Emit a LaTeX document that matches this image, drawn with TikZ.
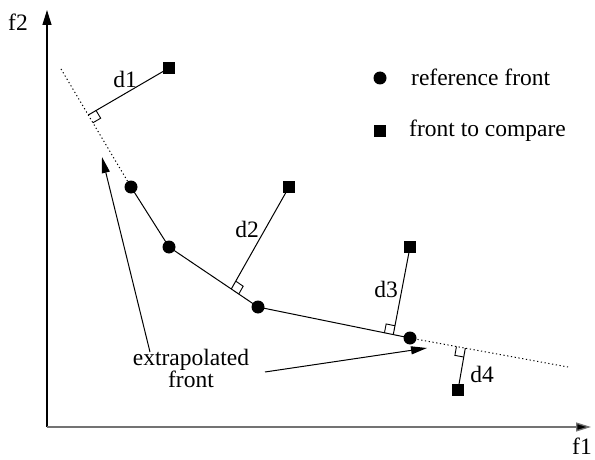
\documentclass[tikz,border=0pt]{standalone}
\usepackage{fontspec}
\setmainfont{Liberation Serif}
\usetikzlibrary{calc,arrows.meta}
\begin{document}
\begin{tikzpicture}[x=1pt,y=-1pt,
  every node/.style={font=\fontsize{23.5}{22}\selectfont, inner sep=0pt},
  curve/.style={line width=1pt},
  extra/.style={line width=1pt, dash pattern=on 1.2pt off 2.6pt},
  dist/.style={line width=1pt},
  rmark/.style={line width=0.9pt},
  refpt/.style={circle, fill=black, minimum size=13pt},
  cmppt/.style={rectangle, fill=black, minimum size=12.5pt},
  axisy/.style={line width=1.3pt, -{Triangle[length=15pt,width=9pt]}},
  axisx/.style={line width=1.3pt, draw=black!55, -{Triangle[length=15pt,width=9pt,fill=black]}},
  pointer/.style={line width=1pt, -{Triangle[length=16pt,width=8pt]}}]
\useasboundingbox (0,0) rectangle (595,460);
% axes
\coordinate (o) at (47,427);
\coordinate (ytip) at (47,10);
\coordinate (xtip) at (591,427);
\draw[axisy] (o) -- (ytip);
\draw[axisx] (o) -- (xtip);
\node (lf2) at (18,22) {f2};
\node (lf1) at (582,446) {f1};
% points
\coordinate (e1) at (61,69);
\coordinate (e2) at (568,367);
\node[refpt] (c1) at (131,187) {};
\node[refpt] (c2) at (169,247) {};
\node[refpt] (c3) at (258,307) {};
\node[refpt] (c4) at (410,338) {};
\node[cmppt] (s1) at (169,68) {};
\node[cmppt] (s2) at (289,187) {};
\node[cmppt] (s3) at (410,247) {};
\node[cmppt] (s4) at (458,390) {};
% fronts
\draw[extra] (e1) -- (c1.center);
\draw[curve] (c1.center) -- (c2.center) -- (c3.center) -- (c4.center);
\draw[extra] (c4.center) -- (e2);
% feet
\coordinate (f1) at ($(e1)!0.39!(c1.center)$);
\coordinate (f2) at ($(c2.center)!0.70!(c3.center)$);
\coordinate (f3) at ($(c3.center)!0.89!(c4.center)$);
\coordinate (f4) at ($(c4.center)!0.35!(e2)$);
\draw[dist] (f1) -- (s1.center);
\draw[dist] (f2) -- (s2.center);
\draw[dist] (f3) -- (s3.center);
\draw[dist] (f4) -- (s4.center);
% right-angle marks
\foreach \f/\a/\s in {f1/c1.center/s1.center, f2/c3.center/s2.center, f3/c3.center/s3.center, f4/c4.center/s4.center}{
  \draw[rmark] ($(\f)!9pt!(\a)$) -- ($($(\f)!9pt!(\a)$)+($(\f)!9pt!(\s)$)-(\f)$) -- ($(\f)!9pt!(\s)$);
}
% distance labels
\node (d1) at (125,79) {d1};
\node (d2) at (247,229) {d2};
\node (d3) at (386,289) {d3};
\node (d4) at (482,374) {d4};
% extrapolated label and arrows
\node[align=center] (ext) at (191,368) {extrapolated\\front};
\coordinate (a1s) at (150,352);
\coordinate (a1e) at (102,157);
\coordinate (a2s) at (265,372);
\coordinate (a2e) at (427,348);
\draw[pointer] (a1s) -- (a1e);
\draw[pointer] (a2s) -- (a2e);
% legend
\node[refpt] (lc) at (380,78) {};
\node[anchor=west] (lct) at (411,77) {reference front};
\node[cmppt] (ls) at (380,131) {};
\node[anchor=west] (lst) at (409,131) {front to compare};
\end{tikzpicture}
\end{document}
